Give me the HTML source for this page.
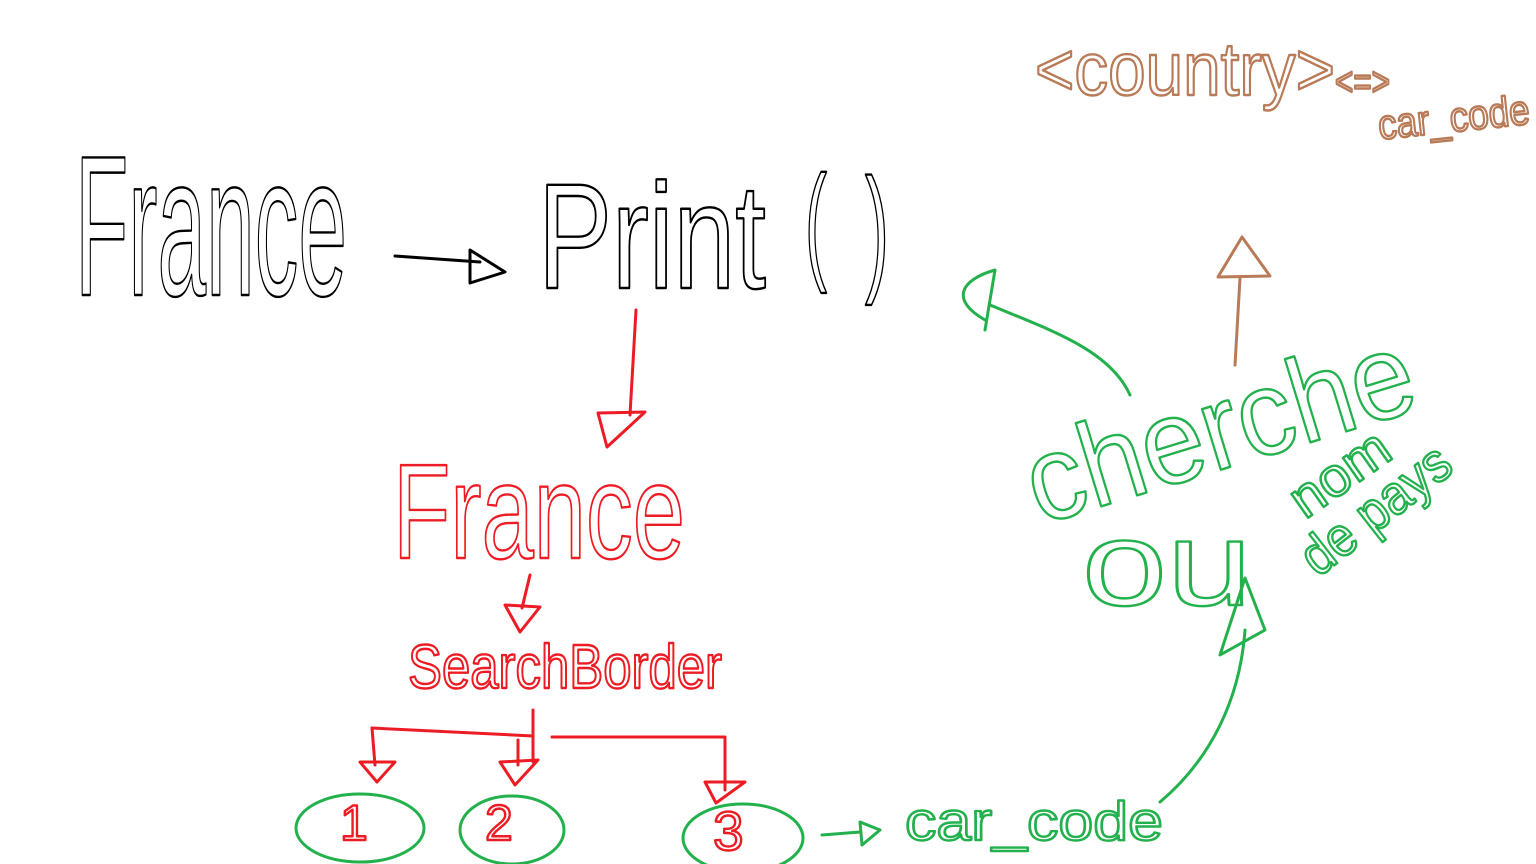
<!DOCTYPE html>
<html><head><meta charset="utf-8"><style>
html,body{margin:0;padding:0;background:#fff;width:1536px;height:864px;overflow:hidden}
svg{display:block}
text{font-family:"Liberation Sans",sans-serif;fill:none;stroke-width:2.4;stroke-linejoin:round}
.k{stroke:#000}.r{stroke:#ed1c24}.g{stroke:#22b14c}.b{stroke:#b97a57}
path,line,ellipse,polygon{fill:none;stroke-width:3;stroke-linecap:round;stroke-linejoin:round}
</style></head><body>
<svg width="1536" height="864" viewBox="0 0 1536 864">
<!-- black -->
<text class="k" x="75" y="295" font-size="200" textLength="272" lengthAdjust="spacingAndGlyphs">France</text>
<g stroke="#000">
<path d="M395 256 L480 262"/><polygon points="470,250 505,272 470,283"/></g>
<text class="k" x="538" y="288" font-size="150" textLength="228" lengthAdjust="spacingAndGlyphs">Print</text>
<text class="k" x="805" y="266" font-size="130" textLength="22" lengthAdjust="spacingAndGlyphs">(</text>
<text class="k" x="865" y="276" font-size="140" textLength="24" lengthAdjust="spacingAndGlyphs">)</text>
<!-- red -->
<g stroke="#ed1c24">
<path d="M636 310 L630 415"/><polygon points="598,413 645,412 607,447"/></g>
<text class="r" x="393" y="558" font-size="135" textLength="292" lengthAdjust="spacingAndGlyphs">France</text>
<g stroke="#ed1c24">
<path d="M530 575 L522 608"/><polygon points="505,605 540,607 520,632"/></g>
<text class="r" x="408" y="688" font-size="62" textLength="314" lengthAdjust="spacingAndGlyphs">SearchBorder</text>
<g stroke="#ed1c24">
<path d="M533 710 L533 762"/><path d="M372 728 L533 736"/><path d="M552 737 L725 737 L725 790"/>
<path d="M372 728 L375 765"/><polygon points="360,762 395,762 377,782"/>
<path d="M518 740 L518 765"/><polygon points="500,762 538,760 515,785"/>
<polygon points="705,782 745,782 716,803"/></g>
<!-- green circles -->
<ellipse cx="360" cy="828" rx="64" ry="34" stroke="#22b14c"/>
<ellipse cx="512" cy="830" rx="52" ry="34" stroke="#22b14c"/>
<ellipse cx="743" cy="838" rx="60" ry="34" stroke="#22b14c"/>
<text class="r" x="340" y="840" font-size="50">1</text>
<text class="r" x="485" y="840" font-size="50">2</text>
<text class="r" x="713" y="850" font-size="55">3</text>
<g stroke="#22b14c">
<path d="M822 835 L860 832"/><polygon points="860,822 880,830 862,845"/></g>
<text class="g" x="905" y="840" font-size="55" textLength="258" lengthAdjust="spacingAndGlyphs">car_code</text>
<g stroke="#22b14c">
<path d="M1160 802 C1210 760 1240 700 1245 630"/><path d="M1220 655 L1265 630 L1245 578 Z"/></g>
<g stroke="#22b14c">
<path d="M1130 395 C1110 350 1050 330 990 305"/><path d="M985 330 L995 270 C960 280 950 300 985 320"/></g>
<text class="g" x="1040" y="525" font-size="120" textLength="400" lengthAdjust="spacingAndGlyphs" transform="rotate(-17 1040 525)">cherche</text>
<text class="g" x="1082" y="605" font-size="120" textLength="170" lengthAdjust="spacingAndGlyphs">ou</text>
<text class="g" x="1305" y="520" font-size="55" textLength="110" lengthAdjust="spacingAndGlyphs" transform="rotate(-35 1305 520)">nom</text>
<text class="g" x="1318" y="578" font-size="55" textLength="175" lengthAdjust="spacingAndGlyphs" transform="rotate(-38 1318 578)">de pays</text>
<!-- brown -->
<g stroke="#b97a57">
<path d="M1235 365 L1240 278"/><polygon points="1218,277 1270,276 1242,237"/></g>
<text class="b" x="1035" y="95" font-size="75" textLength="300" lengthAdjust="spacingAndGlyphs">&lt;country&gt;</text>
<text class="b" x="1335" y="95" font-size="40" textLength="55" lengthAdjust="spacingAndGlyphs">&lt;=&gt;</text>
<text class="b" x="1378" y="132" font-size="42" textLength="152" lengthAdjust="spacingAndGlyphs" transform="rotate(-6 1450 120)">car_code</text>
</svg>
</body></html>
